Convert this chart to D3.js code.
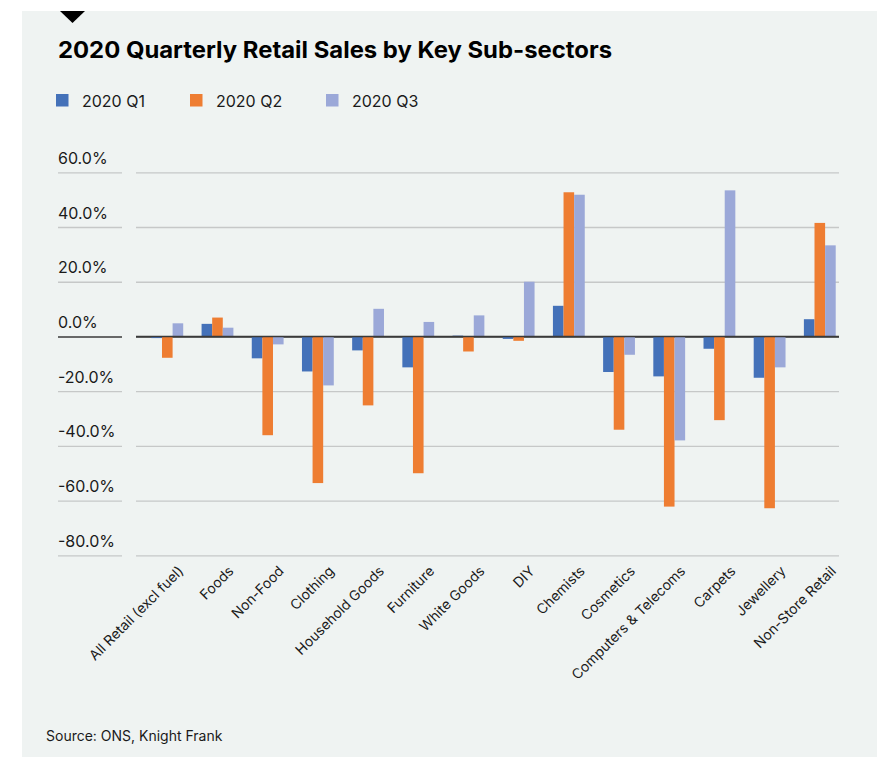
<!DOCTYPE html>
<html>
<head>
<meta charset="utf-8">
<script src="https://cdn.jsdelivr.net/npm/d3@7"></script>
<style>
  html, body { margin: 0; padding: 0; background: #ffffff; }
  svg { display: block; }
  text { font-family: Inter, "Liberation Sans", Arial, sans-serif; fill: #1a1a1a; }
</style>
</head>
<body>
<svg id="chart" width="884" height="758"></svg>
<script>
// Quarterly % change in retail sales, by sub-sector
const categories = [
  "All Retail (excl fuel)", "Foods", "Non-Food", "Clothing", "Household Goods",
  "Furniture", "White Goods", "DIY", "Chemists", "Cosmetics",
  "Computers & Telecoms", "Carpets", "Jewellery", "Non-Store Retail"
];
const seriesNames = ["2020 Q1", "2020 Q2", "2020 Q3"];
const q1 = [-0.6, 4.6, -8.0, -12.8, -5.1, -11.3, 0.3, -0.9, 11.2, -13.0, -14.6, -4.5, -15.1, 6.3];
const q2 = [-7.8, 6.9, -36.1, -53.6, -25.2, -50.0, -5.5, -1.6, 52.7, -34.1, -62.2, -30.6, -62.8, 41.5];
const q3 = [4.8, 3.2, -2.9, -17.9, 10.1, 5.3, 7.7, 20.0, 51.8, -6.7, -38.0, 53.4, -11.3, 33.3];
const yTicks = [-80, -60, -40, -20, 0, 20, 40, 60];
const colors = ["#4471b9", "#ee7d32", "#9ba8d8"];

const seriesValues = [q1, q2, q3];
const rows = categories.map((c, i) => ({ category: c, values: seriesValues.map(s => s[i]) }));

const svg = d3.select("#chart");

// panel background
svg.append("rect")
  .attr("x", 22).attr("y", 11).attr("width", 855).attr("height", 746)
  .attr("fill", "#eff3f2");

// marker triangle
svg.append("path")
  .attr("d", "M60,11 L85,11 L72.5,23 Z")
  .attr("fill", "#000");

// title
svg.append("text")
  .attr("x", 58).attr("y", 58)
  .attr("font-size", 23).attr("font-weight", 700)
  .attr("textLength", 554).attr("lengthAdjust", "spacingAndGlyphs")
  .style("fill", "#000")
  .text("2020 Quarterly Retail Sales by Key Sub-sectors");

// legend
const legendX = [56, 190, 326];
const legend = svg.append("g");
seriesNames.forEach((name, i) => {
  const g = legend.append("g").attr("transform", `translate(${legendX[i]},94)`);
  g.append("rect").attr("width", 12.5).attr("height", 12.5).attr("fill", colors[i]);
  g.append("text").attr("x", 26).attr("y", 12.7)
    .attr("font-size", 16).text(name);
});

// scales
const gridLeft = 136, gridRight = 839;
const x = d3.scaleBand()
  .domain(categories)
  .range([142.2, 844.9])
  .paddingInner(0.366)
  .paddingOuter(0.183);
const xs = d3.scaleBand()
  .domain(d3.range(seriesNames.length))
  .range([0, x.bandwidth()]);
const y = d3.scaleLinear().domain([-80, 60]).range([555.3, 172.3]);

// percentage labels with a plain hyphen for negatives
const pct = d => d.toFixed(1) + "%";

// gridlines
const grid = svg.append("g")
  .attr("transform", `translate(${gridLeft},0)`)
  .call(d3.axisRight(y).tickValues(yTicks).tickSize(gridRight - gridLeft).tickFormat(""));
grid.select(".domain").remove();
grid.selectAll(".tick line")
  .attr("stroke", d => d === 0 ? "#3a3a3a" : "#c6c8c8")
  .attr("stroke-width", d => d === 0 ? 1.6 : 1.3);

// tick labels with their short underline
const labelAxis = svg.append("g")
  .attr("transform", "translate(58,0)")
  .call(d3.axisRight(y).tickValues(yTicks).tickSize(64).tickFormat(pct));
labelAxis.select(".domain").remove();
labelAxis.selectAll(".tick line")
  .attr("stroke", d => d === 0 ? "#3a3a3a" : "#c6c8c8")
  .attr("stroke-width", d => d === 0 ? 1.6 : 1.3);
labelAxis.selectAll(".tick text")
  .attr("x", 0).attr("y", -9).attr("dy", 0)
  .attr("text-anchor", "start")
  .attr("font-size", 16)
  .attr("font-family", null)
  .style("fill", "#1a1a1a");

// bars
const groups = svg.append("g").selectAll("g")
  .data(rows).join("g")
  .attr("transform", d => `translate(${x(d.category)},0)`);
groups.selectAll("rect")
  .data(d => d.values.map((v, i) => ({ v, i })))
  .join("rect")
  .attr("x", d => xs(d.i))
  .attr("width", xs.bandwidth())
  .attr("y", d => y(Math.max(0, d.v)))
  .attr("height", d => Math.abs(y(d.v) - y(0)))
  .attr("fill", d => colors[d.i]);

// redraw the zero line over the bars
svg.append("line")
  .attr("x1", gridLeft).attr("x2", gridRight)
  .attr("y1", y(0)).attr("y2", y(0))
  .attr("stroke", "#3a3a3a").attr("stroke-width", 1.6);

// category labels
const xAxis = svg.append("g")
  .attr("transform", "translate(0,555)")
  .call(d3.axisBottom(x).tickSize(0).tickPadding(0));
xAxis.select(".domain").remove();
xAxis.selectAll(".tick text")
  .attr("font-size", 14)
  .attr("font-family", null)
  .attr("text-anchor", "end")
  .attr("x", 0).attr("y", 0).attr("dy", 0)
  .attr("transform", "translate(17,17) rotate(-45)")
  .style("fill", "#1a1a1a");

// source note
svg.append("text")
  .attr("x", 46).attr("y", 741)
  .attr("font-size", 14)
  .text("Source: ONS, Knight Frank");
</script>
</body>
</html>
